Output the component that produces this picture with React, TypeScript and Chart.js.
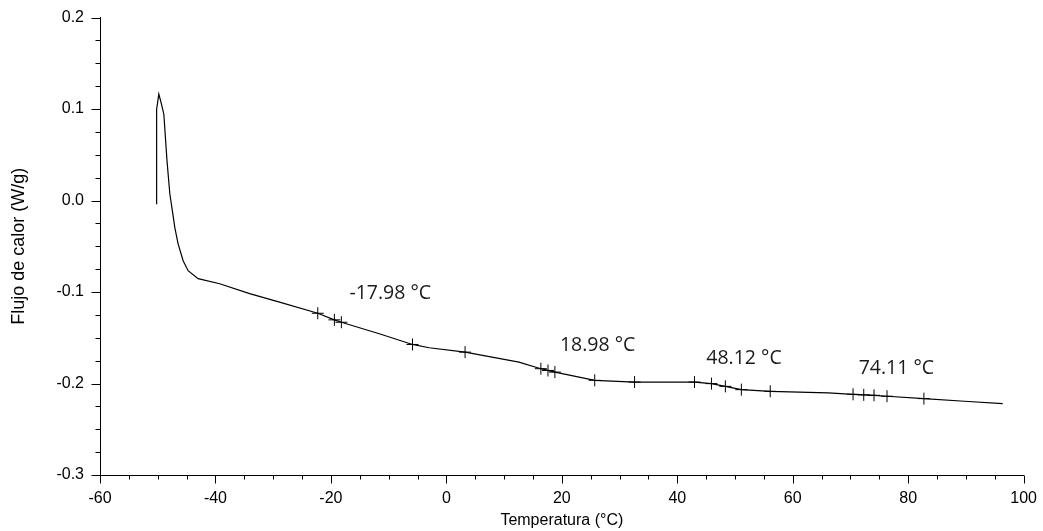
import React, { useEffect, useRef } from "react";
import { Chart, registerables } from "chart.js";

Chart.register(...registerables);

// Heat-flow curve (temperature °C, heat flow W/g)
const curveT = [
  -50.22, -50.2, -50.18, -49.81, -49.34, -48.94, -48.39, -47.9, -47.46, -47.04,
  -46.47, -45.6, -44.74, -43.0, -39.26, -34.08, -28.9, -22.28, -19.4, -18.19,
  -11.62, -5.87, -2.98, 3.24, 12.57, 16.37, 18.8, 22.37, 25.7, 32.6,
  42.98, 45.92, 48.33, 51.1, 56.1, 66.13, 70.45, 74.08, 76.33, 82.72,
  89.74, 96.37,
];
const curveHF = [
  -0.0037, 0.05, 0.0998, 0.1164, 0.1052, 0.0943, 0.0431, 0.0072, -0.0113, -0.0295,
  -0.0473, -0.0658, -0.0767, -0.0854, -0.0909, -0.1017, -0.111, -0.1232, -0.1304, -0.133,
  -0.1456, -0.1573, -0.1609, -0.1657, -0.1766, -0.1838, -0.1875, -0.1922, -0.1965, -0.1984,
  -0.1984, -0.2001, -0.2031, -0.2067, -0.2085, -0.2103, -0.2118, -0.2129, -0.2139, -0.2165,
  -0.2194, -0.2219,
];

// Analysis markers (+) on the curve
const markerT = [
  -22.28, -19.4, -18.19, -5.87, 3.24, 16.37, 17.6, 18.8, 25.7, 32.6,
  42.98, 45.92, 48.33, 51.1, 56.1, 70.45, 72.3, 74.08, 76.33, 82.72,
];
const markerHF = [
  -0.1232, -0.1304, -0.133, -0.1573, -0.1657, -0.1838, -0.1857, -0.1875, -0.1965, -0.1984,
  -0.1984, -0.2001, -0.2031, -0.2067, -0.2085, -0.2118, -0.2124, -0.2129, -0.2139, -0.2165,
];

// Transition labels
const labelText = ["-17.98 °C", "18.98 °C", "48.12 °C", "74.11 °C"];
const labelT = [-9.72, 26.2, 51.55, 77.95];
const labelHF = [-0.1017, -0.1584, -0.173, -0.184];

const xMin = -60;
const xMax = 100;
const xMajor = 20;
const xMinor = 5;
const yMin = -0.3;
const yMax = 0.2;
const yMajor = 0.1;
const yMinor = 0.025;

const axisFont = '"Liberation Sans", Arial, sans-serif';

const tickPlugin = {
  id: "customTicks",
  afterDraw(chart: any) {
    const ctx = chart.ctx;
    const xs = chart.scales.x;
    const ys = chart.scales.y;
    const area = chart.chartArea;
    ctx.save();
    ctx.strokeStyle = "#000";
    ctx.lineWidth = 1;
    ctx.beginPath();
    const nx = Math.round((xMax - xMin) / xMinor);
    for (let i = 0; i <= nx; i++) {
      const v = xMin + i * xMinor;
      const major = Math.abs(v / xMajor - Math.round(v / xMajor)) < 1e-6;
      const px = Math.round(xs.getPixelForValue(v)) + 0.5;
      const py = Math.round(area.bottom) + 0.5;
      ctx.moveTo(px, py);
      ctx.lineTo(px, py + (major ? 8 : 4));
    }
    const ny = Math.round((yMax - yMin) / yMinor);
    for (let i = 0; i <= ny; i++) {
      const v = yMin + i * yMinor;
      const major = i % Math.round(yMajor / yMinor) === 0;
      const py = Math.round(ys.getPixelForValue(v)) + 0.5;
      const px = Math.round(area.left) + 0.5;
      ctx.moveTo(px, py);
      ctx.lineTo(px - (major ? 9 : 5), py);
    }
    ctx.stroke();

    ctx.fillStyle = "#1a1a1a";
    ctx.font = '19.5px "Open Sans", sans-serif';
    ctx.textAlign = "center";
    ctx.textBaseline = "middle";
    for (let i = 0; i < labelText.length; i++) {
      ctx.fillText(labelText[i], xs.getPixelForValue(labelT[i]), ys.getPixelForValue(labelHF[i]));
    }
    ctx.restore();
  },
};

export default function App() {
  const canvasRef = useRef<HTMLCanvasElement | null>(null);

  useEffect(() => {
    document.body.style.margin = "0";
    document.body.style.overflow = "hidden";
    const canvas = canvasRef.current;
    if (!canvas) return;

    const curve = curveT.map((t, i) => ({ x: t, y: curveHF[i] }));
    const markers = markerT.map((t, i) => ({ x: t, y: markerHF[i] }));

    const chart = new Chart(canvas, {
      type: "line",
      data: {
        datasets: [
          {
            label: "Flujo de calor",
            data: curve,
            borderColor: "#000",
            borderWidth: 1.2,
            pointRadius: 0,
            tension: 0,
            fill: false,
          },
          {
            label: "Marcas",
            data: markers,
            showLine: false,
            pointStyle: "cross",
            pointRadius: 6,
            pointBorderColor: "#000",
            pointBorderWidth: 1,
            borderColor: "#000",
          },
        ],
      },
      options: {
        animation: false,
        responsive: true,
        maintainAspectRatio: false,
        layout: { padding: { top: 6, right: 7, left: 0, bottom: 0 } },
        plugins: {
          legend: { display: false },
          tooltip: { enabled: false },
        },
        scales: {
          x: {
            type: "linear",
            min: xMin,
            max: xMax,
            grid: { display: false },
            border: { display: true, color: "#000", width: 1 },
            ticks: {
              stepSize: xMajor,
              color: "#000",
              padding: 6,
              font: { family: axisFont, size: 16 },
              maxRotation: 0,
              callback: (v: any) => String(v),
            },
            title: {
              display: true,
              text: "Temperatura (°C)",
              color: "#000",
              font: { family: axisFont, size: 16 },
              padding: { top: 0, bottom: 1 },
            },
            afterFit: (s: any) => {
              s.height = 56;
            },
          },
          y: {
            type: "linear",
            min: yMin,
            max: yMax,
            grid: { display: false },
            border: { display: true, color: "#000", width: 1 },
            ticks: {
              stepSize: yMajor,
              color: "#000",
              padding: 8,
              font: { family: axisFont, size: 16 },
              callback: (v: any) => Number(v).toFixed(1),
            },
            title: {
              display: true,
              text: "Flujo de calor (W/g)",
              color: "#000",
              font: { family: axisFont, size: 18 },
              padding: { top: 8, bottom: 0 },
            },
            afterFit: (s: any) => {
              s.width = 100;
            },
          },
        },
      },
      plugins: [tickPlugin],
    });

    return () => chart.destroy();
  }, []);

  return (
    <div style={{ position: "relative", width: "1043px", height: "531px" }}>
      <canvas ref={canvasRef} />
    </div>
  );
}
